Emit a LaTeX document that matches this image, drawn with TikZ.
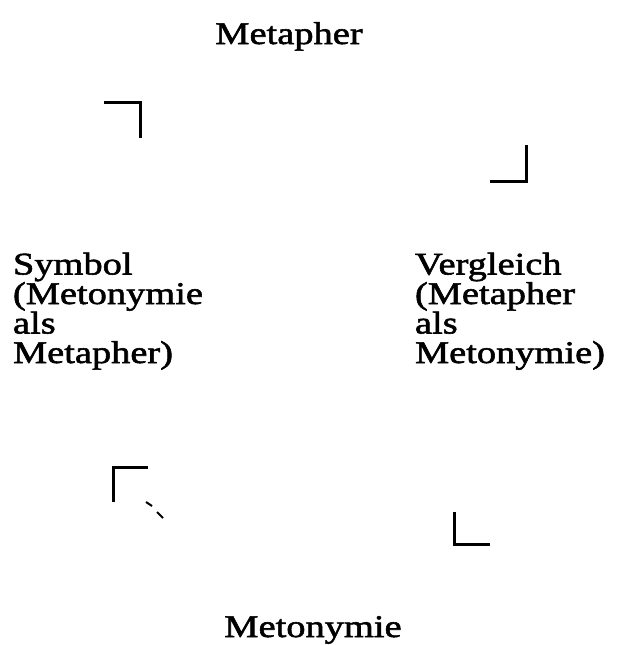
\documentclass[tikz,border=0pt]{standalone}
\usepackage{fontspec}
\setmainfont{Liberation Serif}[FakeStretch=1.22,FakeBold=1.8]
\begin{document}
\begin{tikzpicture}[x=1pt,y=-1pt,
  lbl/.style={inner sep=0pt,outer sep=0pt,font=\fontsize{31.5}{29.5}\selectfont},
  cornermark/.style={line width=3pt},
  tickmark/.style={line width=2pt}]
\useasboundingbox (0,0) rectangle (617,645);
\node[lbl,anchor=base] (meta) at (289,44) {Metapher};
\node[lbl,anchor=base] (meto) at (313,637) {Metonymie};
\node[lbl,anchor=base west,align=left] (sym) at (13,363) {Symbol\\(Metonymie\\als\\Metapher)};
\node[lbl,anchor=base west,align=left] (ver) at (415,363) {Vergleich\\(Metapher\\als\\Metonymie)};
% corner marks
\draw[cornermark] (104,102) -- (140,102) -- (140,138);
\draw[cornermark] (526,145) -- (526,181) -- (490,181);
\draw[cornermark] (113,502) -- (113,467) -- (148,467);
\draw[tickmark] (146,502) -- (152,506);
\draw[tickmark] (157,512) -- (163,518);
\draw[cornermark] (454,512) -- (454,544) -- (490,544);
\end{tikzpicture}
\end{document}
